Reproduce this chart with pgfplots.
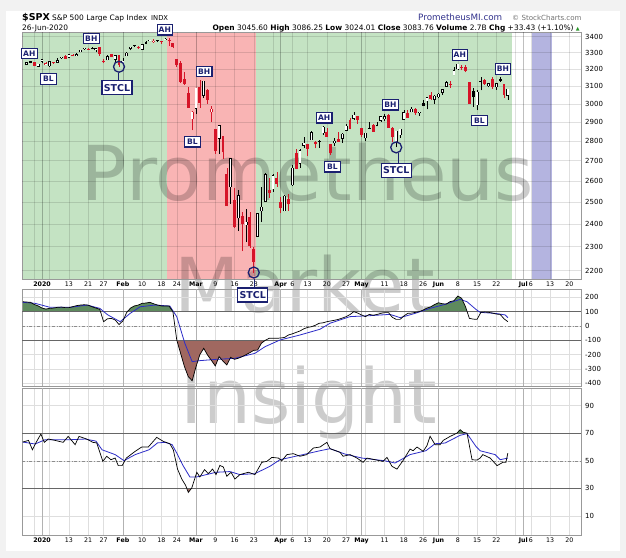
\documentclass[border=0pt]{standalone}
\usepackage{fontspec}
\setmainfont{DejaVu Sans}
\usepackage{pgfplots}
\pgfplotsset{compat=1.18}
\usepackage{pgfplotstable}
\definecolor{pagegrey}{RGB}{242,242,242}
\definecolor{gbg}{RGB}{196,227,195}
\definecolor{rbg}{RGB}{249,180,180}
\definecolor{pbg}{RGB}{180,180,224}
\definecolor{navy}{RGB}{26,32,112}
\definecolor{cred}{RGB}{214,20,40}
\definecolor{cgreen}{RGB}{94,138,94}
\definecolor{cbrown}{RGB}{160,104,96}
\definecolor{mablue}{RGB}{45,45,200}
\definecolor{pmi}{RGB}{50,50,140}
\definecolor{upgreen}{RGB}{40,150,40}

\pgfplotsset{
  panel/.style={
    scale only axis, width=559bp, xmin=-5.2, xmax=140,
    anchor=north west, clip=false,
    axis line style={black!40},
    major tick length=0pt, minor tick length=0pt,
    grid=major, major grid style={black!13, line width=0.5bp},
    xtick={-2,0,2,7,12,16,21,26,31,35,40,45,50,55,60,62,65,69,74,79,83,84,89,94,99,103,108,113,118,123,125,127,132,137},
    extra x ticks={0,21,40,62,83,103,125},
    extra x tick labels={},
    extra x tick style={grid=major, major grid style={black!30, line width=0.5bp}},
    yticklabel pos=right,
    yticklabel style={font=\fontsize{7}{7}\selectfont, anchor=west, inner sep=0pt, xshift=4bp},
    xticklabel style={font=\fontsize{6.3}{6.3}\selectfont, inner sep=0pt, anchor=north, yshift=-2.5bp},
  },
  dates/.style={
    xticklabels={{},\textbf{2020},{},13,21,27,\textbf{Feb},10,18,24,\textbf{Mar},9,16,23,{},\textbf{Apr},6,13,20,27,\textbf{May},{},11,18,26,\textbf{Jun},8,15,22,{},\textbf{Jul},6,13,20}
  },
}

\pgfplotstableread{
x o h l c col fil
-4 3227.2 3240.1 3227.2 3239.9 0 0
-3 3247.2 3247.9 3234.4 3240.0 0 1
-2 3240.1 3240.9 3216.6 3221.3 1 1
-1 3215.2 3231.7 3212.0 3230.8 0 0
0 3244.7 3258.1 3235.5 3257.9 0 0
1 3226.4 3246.2 3222.3 3234.9 1 0
2 3217.6 3246.8 3214.6 3246.3 0 0
3 3241.9 3244.9 3232.4 3237.2 1 1
4 3238.6 3267.1 3236.7 3253.1 0 0
5 3266.0 3275.6 3263.7 3274.7 0 0
6 3281.0 3283.0 3260.9 3265.4 1 1
7 3271.1 3288.1 3268.4 3288.1 0 0
8 3285.4 3294.2 3277.2 3283.2 1 1
9 3282.3 3298.7 3280.7 3289.3 0 0
10 3303.0 3317.1 3303.0 3316.8 0 0
11 3323.7 3329.9 3318.9 3329.6 0 0
12 3321.0 3329.8 3316.6 3320.8 1 1
13 3330.0 3337.8 3320.0 3321.8 0 1
14 3315.8 3326.9 3301.9 3325.5 0 0
15 3333.1 3333.2 3281.5 3295.5 1 1
16 3247.2 3258.8 3234.5 3243.6 1 1
17 3255.4 3285.8 3253.2 3276.2 0 0
18 3289.5 3293.5 3271.9 3273.4 1 1
19 3256.5 3285.9 3242.8 3283.7 0 0
20 3282.3 3282.3 3214.7 3225.5 1 1
21 3235.7 3268.4 3235.7 3248.9 0 0
22 3280.6 3306.9 3280.6 3297.6 0 0
23 3324.9 3337.6 3313.8 3334.7 0 0
24 3344.9 3348.0 3334.4 3345.8 0 0
25 3335.5 3341.4 3322.1 3327.7 1 1
26 3318.3 3352.3 3317.8 3352.1 0 0
27 3365.9 3375.6 3352.7 3357.8 0 1
28 3370.5 3381.5 3369.7 3379.5 0 0
29 3365.9 3385.1 3360.5 3373.9 1 0
30 3378.1 3380.7 3366.2 3380.2 0 0
31 3369.0 3375.0 3355.6 3370.3 1 0
32 3380.4 3393.5 3378.8 3386.2 0 0
33 3380.5 3389.2 3341.0 3373.2 1 1
34 3360.5 3360.8 3328.5 3337.8 1 1
35 3257.6 3259.8 3214.7 3225.9 1 1
36 3238.9 3247.0 3118.8 3128.2 1 1
37 3139.9 3182.5 3109.0 3116.4 1 1
38 3062.5 3097.1 2977.4 2978.8 1 1
39 2916.9 2959.7 2855.8 2954.2 1 0
40 2974.3 3091.0 2945.2 3090.2 0 0
41 3096.5 3136.7 2976.6 3003.4 1 1
42 3045.8 3131.0 3034.4 3130.1 0 0
43 3075.7 3083.0 2999.8 3023.9 1 1
44 2954.2 2985.9 2901.5 2972.4 1 0
45 2863.9 2863.9 2734.4 2746.6 1 1
46 2813.5 2882.6 2734.0 2882.2 0 0
47 2825.6 2825.6 2707.2 2741.4 1 1
48 2630.9 2661.0 2478.9 2480.6 1 1
49 2570.0 2711.3 2492.4 2711.0 0 0
50 2508.6 2563.0 2380.9 2386.1 1 1
51 2425.7 2553.9 2367.0 2529.2 0 0
52 2436.5 2453.6 2280.5 2398.1 1 1
53 2393.5 2467.0 2319.8 2409.4 0 0
54 2431.9 2453.0 2295.6 2304.9 1 1
55 2290.7 2300.7 2191.9 2237.4 1 1
56 2344.4 2449.7 2344.4 2447.3 0 0
57 2457.8 2571.4 2407.5 2475.6 0 0
58 2501.3 2637.0 2500.7 2630.1 0 0
59 2555.9 2615.9 2520.0 2541.5 1 1
60 2559.0 2631.8 2545.3 2626.7 0 0
61 2614.7 2641.4 2571.2 2584.6 1 1
62 2498.1 2522.8 2447.5 2470.5 1 1
63 2458.5 2533.2 2455.8 2526.9 0 0
64 2514.9 2538.2 2460.0 2488.7 1 1
65 2578.3 2676.9 2574.6 2663.7 0 0
66 2738.7 2756.9 2657.7 2659.4 1 1
67 2685.0 2760.8 2663.3 2750.0 0 0
68 2777.0 2818.6 2762.4 2789.8 0 0
69 2782.5 2782.5 2721.2 2761.6 1 1
70 2805.1 2851.9 2805.1 2846.1 0 0
71 2795.6 2801.9 2761.5 2783.4 1 1
72 2799.3 2806.5 2764.3 2799.6 0 0
73 2842.4 2879.2 2830.9 2874.6 0 0
74 2845.6 2869.0 2820.4 2823.2 1 1
75 2784.8 2785.5 2727.1 2736.6 1 1
76 2787.9 2815.1 2776.0 2799.3 0 0
77 2810.4 2844.9 2794.3 2797.8 1 1
78 2812.6 2842.7 2791.8 2836.7 0 0
79 2854.7 2887.7 2852.9 2878.5 0 0
80 2910.0 2921.2 2860.7 2863.4 1 1
81 2918.5 2954.9 2912.2 2939.5 0 0
82 2930.9 2930.9 2892.5 2912.4 1 1
83 2869.1 2869.1 2821.6 2830.7 1 1
84 2815.0 2844.2 2797.9 2842.7 0 0
85 2868.9 2898.2 2863.6 2868.4 0 1
86 2883.1 2891.1 2847.7 2848.4 1 1
87 2878.3 2901.9 2876.5 2881.2 0 0
88 2908.8 2932.2 2902.9 2929.8 0 0
89 2915.5 2944.3 2903.4 2930.3 0 0
90 2939.5 2945.8 2869.6 2870.1 1 1
91 2865.9 2874.1 2793.2 2820.0 1 1
92 2794.5 2852.8 2766.6 2852.5 0 0
93 2830.0 2865.0 2816.8 2863.7 0 0
94 2913.9 2968.1 2913.9 2953.9 0 0
95 2948.6 2964.2 2922.4 2922.9 1 1
96 2953.6 2980.3 2953.6 2971.6 0 0
97 2970.0 2978.5 2938.6 2948.5 1 1
98 2948.1 2956.8 2933.6 2955.5 0 0
99 3004.1 3021.7 2988.2 2991.8 0 1
100 3015.7 3036.3 2969.8 3036.1 0 0
101 3046.6 3068.7 3023.4 3029.7 1 1
102 3025.2 3049.2 2998.6 3044.3 0 0
103 3038.8 3062.2 3031.5 3055.7 0 0
104 3064.2 3081.1 3051.6 3080.8 0 0
105 3098.9 3130.9 3098.9 3122.9 0 0
106 3111.6 3128.9 3090.4 3112.4 1 0
107 3163.8 3211.7 3163.8 3193.9 0 0
108 3199.9 3233.1 3196.0 3232.4 0 0
109 3213.3 3222.7 3193.1 3207.2 1 1
110 3213.4 3223.3 3181.5 3190.1 1 1
111 3123.5 3123.5 2999.5 3002.1 1 1
112 3071.0 3088.4 2984.5 3041.3 0 1
113 2993.8 3079.8 2965.7 3066.6 0 0
114 3131.0 3153.5 3076.1 3124.7 0 1
115 3136.1 3141.2 3108.0 3113.5 1 1
116 3101.6 3120.0 3093.5 3115.3 0 0
117 3140.3 3155.5 3083.1 3097.7 1 1
118 3094.4 3120.9 3079.4 3117.9 0 0
119 3138.7 3154.9 3127.1 3131.3 0 1
120 3114.4 3115.0 3032.1 3050.3 1 1
121 3046.6 3086.3 3024.0 3083.8 0 0
}\spx

\pgfplotstableread{
x y
-5 169
-4 167
-3 165
-2 150
-1 140
0 125
1 118
2 123
3 125
4 130
5 132
6 128
7 128
8 135
9 142
10 146
11 148
12 145
13 134
14 125
15 116
16 30
17 50
18 53
19 42
20 10
21 35
22 95
23 125
24 140
25 146
26 158
27 160
28 165
29 155
30 146
31 140
32 139
33 139
34 100
35 -98
36 -191
37 -284
38 -354
39 -382
40 -284
41 -200
42 -156
43 -203
44 -240
45 -279
46 -214
47 -245
48 -272
49 -219
50 -233
51 -225
52 -214
53 -200
54 -186
55 -170
56 -168
57 -120
58 -100
59 -86
60 -86
61 -86
62 -84
63 -80
64 -63
65 -55
66 -45
67 -35
68 -20
69 -10
70 -5
71 5
72 19
73 22
74 30
75 35
76 40
77 46
78 55
79 65
80 80
81 100
82 90
83 77
84 65
85 81
86 75
87 80
88 88
89 93
90 93
91 60
92 46
93 46
94 70
95 88
96 90
97 95
98 100
99 111
100 125
101 134
102 150
103 162
104 155
105 153
106 170
107 176
108 209
109 193
110 134
111 53
112 48
113 46
114 95
115 97
116 95
117 90
118 83
119 81
120 50
121 30
}\cci

\pgfplotstableread{
x y
-5 165
-1.8 158
2.1 130
7.3 130
11.7 146
15 123
17.1 77
20.3 30
22.9 88
25.5 134
29.4 146
33.2 139
35 65
37.1 -121
39 -249
41 -242
45.2 -233
50.1 -226
55.3 -191
57.9 -145
61.8 -98
67 -63
72.2 -23
74.8 19
80 65
85.2 72
90.4 81
93 58
96.9 88
100.8 123
104.7 151
108.6 186
110.4 169
112.7 116
113.8 95
117.7 88
120.3 77
121 58
}\ccima

\pgfplotstableread{
x y
-5 63.6
-3.5 64.8
-2.5 58
-1.6 63
-0.3 69.4
0.6 63.4
1.6 65.8
3.4 64.8
5.5 63.4
6.8 67.7
8.6 61.7
9.6 67.7
11.6 65.8
13.2 63.4
14.2 63
15.8 49.6
16.8 53.3
17.9 50.8
19 52
19.8 46.5
20.8 46.5
21.9 52
24.2 56.9
25.9 60
27.6 60
29.8 67
31.5 64.1
33.2 62.4
34.1 58
35.2 44
36.3 36.8
37.3 32.2
38 27.1
38.9 30.3
40.2 41.7
41 38.3
42.2 43.6
43.2 40.7
44.3 44
45.2 40
46.2 46.7
47.1 45.5
48 38.8
49.1 41.7
50.1 36.8
51.4 40
53.6 41.7
55.3 40
57.1 48.9
58.4 49.6
59.7 52.5
61.4 52
62.3 50.1
63.6 54.5
65.3 55.2
67 53.3
68.8 54.5
70.5 59.3
72.2 60
74 63.4
74.8 58.8
77.4 56.2
78.2 53.3
80 54.5
81.8 52
83.4 48.9
84.4 52
86.5 50.8
88.6 49.6
89.6 52.5
90.9 46
92.2 44
93.8 50.3
95.6 58.5
96.4 57.3
97.4 60
99 56.9
100 61.1
100.8 67.8
102.1 61.7
103.4 61.7
104.2 64.8
106 67.7
107.8 70.1
108.6 72.6
109.4 70.7
110.4 70
111.7 50.8
113 50.5
113.8 52
114.5 54.5
116.4 52
118.2 46.5
119.7 48.9
120.5 48.9
121 55.6
}\rsi

\pgfplotstableread{
x y
-5 63.6
-1.8 62.2
0.8 65.3
7.3 65.3
11.2 65.8
14 64.3
15.6 58
19 54.5
21.3 50.1
24.2 54.5
27.8 58
30 63
32 63.4
33.8 61.7
35 55.6
36.6 46.7
38.4 38.3
40.2 38.3
45.2 41.7
48.8 42.2
51.4 40
55.3 40.7
59.2 46
61.8 50.8
67 54
72.2 57.3
74.8 58.8
78.7 54.9
83.1 52
89.1 50
91.7 48.4
95.6 54.5
99.7 57.3
102.1 62.4
104.7 62.9
108.6 68.5
110.4 69.7
112.7 60.5
113.8 57.3
117.7 54.5
119 50.8
121 52
}\rsima

\tikzset{
  ann/.style={draw=navy, line width=1.1bp, fill=white, text=navy,
    font=\bfseries\fontsize{7.6}{7.6}\selectfont, inner sep=0pt,
    minimum width=15.5bp, minimum height=10.5bp},
  stcl/.style={draw=navy, line width=1.3bp, fill=white, text=navy,
    font=\bfseries\fontsize{9.5}{9.5}\selectfont, inner sep=0pt,
    minimum width=30bp, minimum height=14bp},
}

\begin{document}
\begin{tikzpicture}
\fill[pagegrey] (0,0) rectangle (626bp,-558bp);
\fill[white] (6bp,-11bp) rectangle (620bp,-551bp);

% background shading
\begin{axis}[scale only axis, width=559bp, height=247bp, at={(22bp,-32bp)},
  anchor=north west, xmin=-5.2, xmax=140, ymin=0, ymax=1, hide axis]
\addplot[fill=gbg, draw=none] coordinates {(-5.2,0) (32.5,0) (32.5,1) (-5.2,1)};
\addplot[fill=rbg, draw=none] coordinates {(32.5,0) (55.6,0) (55.6,1) (32.5,1)};
\addplot[fill=gbg, draw=none] coordinates {(55.6,0) (122.2,0) (122.2,1) (55.6,1)};
\addplot[fill=pbg, draw=none] coordinates {(127.3,0) (132.4,0) (132.4,1) (127.3,1)};
\end{axis}

% watermark
\node[anchor=base, inner sep=0pt, font=\fontsize{76}{76}\selectfont, text=black, opacity=0.2] at (308bp,-200bp) {Prometheus};
\node[anchor=base, inner sep=0pt, font=\fontsize{76}{76}\selectfont, text=black, opacity=0.2] at (305bp,-312bp) {Market};
\node[anchor=base, inner sep=0pt, font=\fontsize{76}{76}\selectfont, text=black, opacity=0.2] at (309bp,-423bp) {Insight};

% main price panel (log scale)
\begin{axis}[panel, dates, height=247bp, at={(22bp,-32bp)},
  grid=none, extra x tick style={grid=none},
  ymode=log, ymin=2166, ymax=3430,
  ytick={2200,2300,2400,2500,2600,2700,2800,2900,3000,3100,3200,3300,3400},
  yticklabels={2200,2300,2400,2500,2600,2700,2800,2900,3000,3100,3200,3300,3400}]
% explicit grid
\pgfplotsinvokeforeach{2200,2300,2400,2500,2600,2700,2800,2900,3000,3100,3200,3300,3400}{
  \addplot[black, opacity=0.12, line width=0.5bp, forget plot] coordinates {(-5.2,#1) (140,#1)};}
\pgfplotsinvokeforeach{-2,2,7,12,16,26,31,35,45,50,55,60,65,69,74,79,84,89,94,99,108,113,118,123,127,132,137}{
  \addplot[black, opacity=0.12, line width=0.5bp, forget plot] coordinates {(#1,2166) (#1,3430)};}
\pgfplotsinvokeforeach{0,21,40,62,83,103,125}{
  \addplot[black, opacity=0.25, line width=0.5bp, forget plot] coordinates {(#1,2166) (#1,3430)};}
% candles
\pgfplotstablegetrowsof{\spx}
\pgfmathtruncatemacro\nlast{\pgfplotsretval-1}
\pgfplotsforeachungrouped \i in {0,...,\nlast}{%
  \pgfplotstablegetelem{\i}{x}\of\spx \let\cx\pgfplotsretval
  \pgfplotstablegetelem{\i}{o}\of\spx \let\co\pgfplotsretval
  \pgfplotstablegetelem{\i}{h}\of\spx \let\ch\pgfplotsretval
  \pgfplotstablegetelem{\i}{l}\of\spx \let\cl\pgfplotsretval
  \pgfplotstablegetelem{\i}{c}\of\spx \let\ccl\pgfplotsretval
  \pgfplotstablegetelem{\i}{col}\of\spx \let\ccol\pgfplotsretval
  \pgfplotstablegetelem{\i}{fil}\of\spx \let\cfil\pgfplotsretval
  \ifnum\ccol=0 \def\cco{black}\else\def\cco{cred}\fi
  \pgfmathsetmacro\btop{max(\co,\ccl)*1.0003}%
  \pgfmathsetmacro\bbot{min(\co,\ccl)/1.0003}%
  \edef\doplot{%
    \noexpand\addplot[\cco, line width=0.6bp, forget plot] coordinates {(\cx,\cl) (\cx,\ch)};%
    \noexpand\addplot[\cco, line width=2.9bp, forget plot] coordinates {(\cx,\bbot) (\cx,\btop)};%
  }\doplot
  \ifnum\cfil=0
    \pgfmathsetmacro\itop{max(\co,\ccl)/1.0006}%
    \pgfmathsetmacro\ibot{min(\co,\ccl)*1.0006}%
    \pgfmathtruncatemacro\okk{\itop>\ibot ? 1 : 0}%
    \ifnum\okk=1
      \edef\doplot{\noexpand\addplot[white, line width=1.5bp, forget plot] coordinates {(\cx,\ibot) (\cx,\itop)};}\doplot
    \fi
  \fi
}
% annotation circles at the lows
\addplot[navy, only marks, mark=o, mark size=5.5bp, line width=1.3bp]
  coordinates {(20,3214.7) (55,2191.9) (92,2766.6)};
\end{axis}

% CCI panel
\begin{axis}[panel, height=97bp, at={(22bp,-289bp)}, xticklabel=\empty,
  ymin=-419, ymax=258,
  ytick={-400,-300,-200,-100,0,100,200},
  yticklabels={-400,-300,-200,-100,0,100,200}]
\addplot[fill=cgreen, draw=none] coordinates {(-5,100)(-5,169)(-4,167)(-3,165)(-2,150)(-1,140)(0,125)(1,118)(2,123)(3,125)(4,130)(5,132)(6,128)(7,128)(8,135)(9,142)(10,146)(11,148)(12,145)(13,134)(14,125)(15,116)(15.19,100)};
\addplot[fill=cgreen, draw=none] coordinates {(22.17,100)(23,125)(24,140)(25,146)(26,158)(27,160)(28,165)(29,155)(30,146)(31,140)(32,139)(33,139)(34,100)};
\addplot[fill=cbrown, draw=none] coordinates {(35.02,-100)(36,-191)(37,-284)(38,-354)(39,-382)(40,-284)(41,-200)(42,-156)(43,-203)(44,-240)(45,-279)(46,-214)(47,-245)(48,-272)(49,-219)(50,-233)(51,-225)(52,-214)(53,-200)(54,-186)(55,-170)(56,-168)(57,-120)(58,-100)};
\addplot[fill=cgreen, draw=none] coordinates {(98,100)(99,111)(100,125)(101,134)(102,150)(103,162)(104,155)(105,153)(106,170)(107,176)(108,209)(109,193)(110,134)(110.42,100)};
\addplot[black!60, line width=0.7bp] coordinates {(-5.2,100) (140,100)};
\addplot[black!60, line width=0.7bp] coordinates {(-5.2,-100) (140,-100)};
\addplot[black!45, line width=0.5bp, dash dot] coordinates {(-5.2,0) (140,0)};
\addplot[mablue, line width=0.8bp] table {\ccima};
\addplot[black, line width=0.7bp] table {\cci};
\end{axis}

% RSI panel
\begin{axis}[panel, dates, height=147bp, at={(22bp,-388bp)},
  ymin=-3.8, ymax=102.8,
  ytick={10,30,50,70,90}, yticklabels={10,30,50,70,90}]
\addplot[fill=cbrown, draw=none] coordinates {(37.74,30)(38,27.1)(38.85,30)};
\addplot[fill=cgreen, draw=none] coordinates {(107.7,70)(107.8,70.1)(108.6,72.6)(109.4,70.7)(110.4,70)};
\addplot[black!60, line width=0.7bp] coordinates {(-5.2,70) (140,70)};
\addplot[black!60, line width=0.7bp] coordinates {(-5.2,30) (140,30)};
\addplot[black!45, line width=0.5bp, dash dot] coordinates {(-5.2,50) (140,50)};
\addplot[mablue, line width=0.8bp] table {\rsima};
\addplot[black, line width=0.7bp] table {\rsi};
\end{axis}

% header
\node[anchor=base west, inner sep=0pt, font=\bfseries\fontsize{9.5}{9.5}\selectfont] at (22bp,-20.5bp) {\$SPX};
\node[anchor=base west, inner sep=0pt, font=\fontsize{7.5}{7.5}\selectfont] at (52bp,-20.5bp) {S\&P 500 Large Cap Index};
\node[anchor=base west, inner sep=0pt, font=\fontsize{6.8}{6.8}\selectfont] at (151bp,-20.5bp) {INDX};
\node[anchor=base west, inner sep=0pt, font=\fontsize{7.5}{7.5}\selectfont] at (22bp,-30.5bp) {26-Jun-2020};
\node[anchor=base east, inner sep=0pt, font=\fontsize{7.5}{7.5}\selectfont] at (580bp,-30.5bp) {\textbf{Open} 3045.60 \textbf{High} 3086.25 \textbf{Low} 3024.01 \textbf{Close} 3083.76 \textbf{Volume} 2.7B \textbf{Chg} +33.43 (+1.10\%) {\fontsize{5}{5}\selectfont\textcolor{upgreen}{▲}}};
\node[anchor=base west, inner sep=0pt, font=\fontsize{8.8}{8.8}\selectfont, text=pmi] at (418bp,-20.7bp) {PrometheusMI.com};
\node[anchor=base west, inner sep=0pt, font=\fontsize{7.1}{7.1}\selectfont, text=black!55] at (512bp,-20.5bp) {© StockCharts.com};

% annotations
\draw[navy, line width=1.3bp] (118.3bp,-73.3bp) -- (118.3bp,-81bp);
\draw[navy, line width=1.3bp] (254.3bp,-278.5bp) -- (254.3bp,-288.5bp);
\draw[navy, line width=1.3bp] (398.3bp,-153.3bp) -- (398.3bp,-163.5bp);
\node[ann] at (29.3bp,-53.3bp) {AH};
\node[ann] at (48.3bp,-79bp) {BL};
\node[ann] at (91.3bp,-38.3bp) {BH};
\node[stcl] at (117bp,-87.8bp) {STCL};
\node[ann] at (164.8bp,-29.7bp) {AH};
\node[ann] at (204.2bp,-71.3bp) {BH};
\node[ann] at (192.3bp,-141.7bp) {BL};
\node[stcl] at (252.8bp,-295bp) {STCL};
\node[ann] at (324.2bp,-117.7bp) {AH};
\node[ann] at (332.3bp,-166.7bp) {BL};
\node[ann] at (390.3bp,-104.7bp) {BH};
\node[stcl] at (396.3bp,-170.5bp) {STCL};
\node[ann] at (459.8bp,-55bp) {AH};
\node[ann] at (503bp,-69bp) {BH};
\node[ann] at (479.5bp,-120.5bp) {BL};
\end{tikzpicture}
\end{document}
